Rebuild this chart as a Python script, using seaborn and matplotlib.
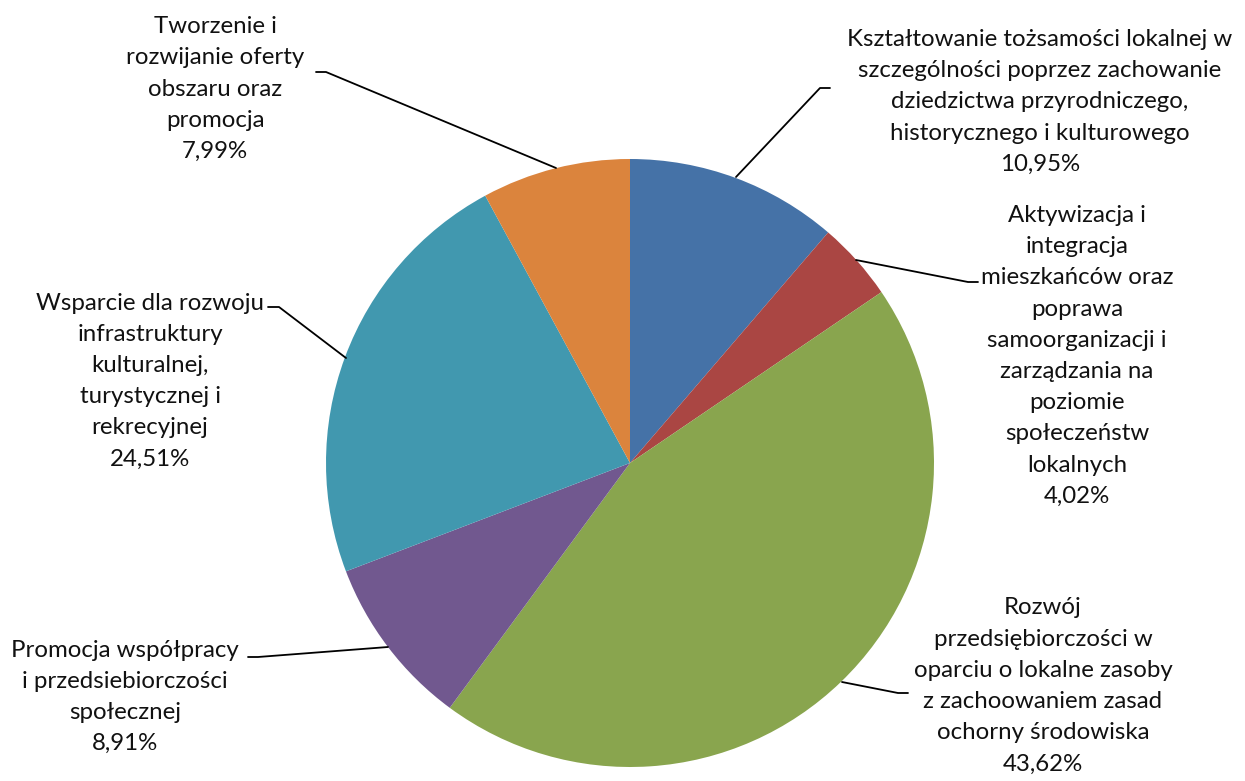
import matplotlib
matplotlib.use("Agg")
import matplotlib.pyplot as plt
import seaborn as sns

categories = [
    "Kształtowanie tożsamości lokalnej w\nszczególności poprzez zachowanie\ndziedzictwa przyrodniczego,\nhistorycznego i kulturowego",
    "Aktywizacja i\nintegracja\nmieszkańców oraz\npoprawa\nsamoorganizacji i\nzarządzania na\npoziomie\nspołeczeństw\nlokalnych",
    "Rozwój\nprzedsiębiorczości w\noparciu o lokalne zasoby\nz zachoowaniem zasad\nochorny środowiska",
    "Promocja współpracy\ni przedsiebiorczości\nspołecznej",
    "Wsparcie dla rozwoju\ninfrastruktury\nkulturalnej,\nturystycznej i\nrekrecyjnej",
    "Tworzenie i\nrozwijanie oferty\nobszaru oraz\npromocja",
]
# slice sizes as drawn in the picture (measured angles)
slice_values = [11.3, 4.2, 44.6, 9.1, 22.9, 7.9]
# percentage labels as printed
value_labels = ["10,95%", "4,02%", "43,62%", "8,91%", "24,51%", "7,99%"]
colors = ["#4572A7", "#AA4643", "#89A54E", "#71588F", "#4198AF", "#DB843D"]

sns.set_theme(style="white")
plt.rcParams['font.family'] = ['Lato', 'DejaVu Sans']

W, H = 1245, 781
fig = plt.figure(figsize=(W / 100, H / 100), dpi=100)
ax = fig.add_axes([0, 0, 1, 1])

def P(x, y):
    return (x, H - y)

cx, cy = P(630, 463)
ax.pie(slice_values, colors=colors, startangle=90, counterclock=False,
       center=(cx, cy), radius=304, frame=True,
       wedgeprops=dict(linewidth=0))
ax.set_xlim(0, W)
ax.set_ylim(0, H)
ax.set_aspect("equal")
ax.axis("off")

# label positions (text center) and leader lines (pixel coords)
text_pos = [(1040, 102), (1077, 356), (1043, 686), (125, 697), (150, 381), (215, 89)]
leaders = [
    [(736, 177), (820, 88), (830, 88)],
    [(856, 260), (968, 282), (978, 282)],
    [(842, 682), (898, 693), (908, 693)],
    [(388, 647), (258, 657), (248, 657)],
    [(346, 358), (279, 307), (268, 307)],
    [(556, 168), (326, 72), (316, 72)],
]

for cat, vl, (tx, ty), pts in zip(categories, value_labels, text_pos, leaders):
    x, y = P(tx, ty)
    ax.text(x, y, cat + "\n" + vl, ha="center", va="center", fontsize=17.3,
            linespacing=1.6, color="#111111")
    xs = [p[0] for p in pts]
    ys = [H - p[1] for p in pts]
    ax.plot(xs, ys, color="black", linewidth=1.3)

fig.savefig("out.png", dpi=100, facecolor="white")
